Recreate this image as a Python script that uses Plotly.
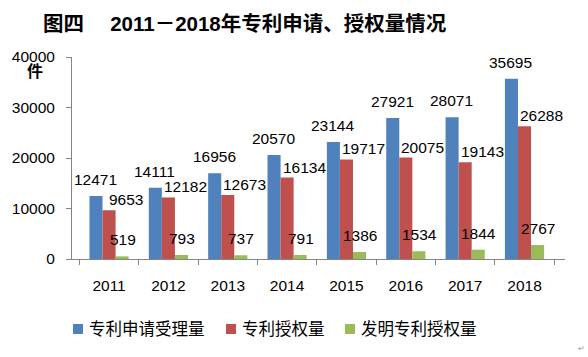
import plotly.graph_objects as go

years = ["2011", "2012", "2013", "2014", "2015", "2016", "2017", "2018"]
applications = [12471, 14111, 16956, 20570, 23144, 27921, 28071, 35695]
grants = [9653, 12182, 12673, 16134, 19717, 20075, 19143, 26288]
invention_grants = [519, 793, 737, 791, 1386, 1534, 1844, 2767]

names = ["专利申请受理量", "专利授权量", "发明专利授权量"]
colors = ["#4F81BD", "#C0504D", "#9BBB59"]

W, H = 588, 357
ML, MR, MT, MB = 72, 23, 57, 98
BARGAP = 0.34
FONT = "Liberation Sans, Noto Sans CJK SC, sans-serif"

fig = go.Figure()
series = [applications, grants, invention_grants]
for name, vals, col in zip(names, series, colors):
    fig.add_trace(go.Bar(x=years, y=vals, name=name, showlegend=False,
                         marker=dict(color=col, line=dict(width=0))))

plot_w = W - ML - MR
plot_h = H - MT - MB
bar_w = plot_w / len(years) * (1 - BARGAP) / 3
offsets = [-bar_w, 0, bar_w]
extra_x = [0, 17, 0]
extra_y = [6, 0, 6]


def px_x(px):
    return (px - ML) / plot_w


def px_y(py):
    return (H - MB - py) / plot_h


ann = []
for k, vals in enumerate(series):
    for i, v in enumerate(vals):
        ann.append(dict(x=i, y=v, xref="x", yref="y", text=str(v), showarrow=False,
                        yanchor="bottom", xanchor="center",
                        xshift=offsets[k] + extra_x[k], yshift=extra_y[k],
                        font=dict(family=FONT, size=15.5, color="#000000")))

title_txt = "图四　 2011－2018年专利申请、授权量情况"
ann.append(dict(xref="paper", yref="paper", x=px_x(41), y=px_y(23),
                xanchor="left", yanchor="middle", showarrow=False,
                text="<b>" + title_txt + "</b>",
                font=dict(family=FONT, size=20.5, color="#000000")))
ann.append(dict(xref="paper", yref="paper", x=px_x(35), y=px_y(72),
                xanchor="center", yanchor="middle", showarrow=False,
                text="<b>件</b>", font=dict(family=FONT, size=16, color="#000000")))
ann.append(dict(xref="paper", yref="paper", x=px_x(581), y=px_y(348),
                xanchor="center", yanchor="middle", showarrow=False,
                text="↵", font=dict(family=FONT, size=8, color="#999999")))

# manual legend
leg_sq_x = [73, 226, 345]
shapes = []
for nm, col, sx in zip(names, colors, leg_sq_x):
    shapes.append(dict(type="rect", xref="paper", yref="paper",
                       x0=px_x(sx), x1=px_x(sx + 10), y0=px_y(334), y1=px_y(324),
                       fillcolor=col, line=dict(width=0)))
    ann.append(dict(xref="paper", yref="paper", x=px_x(sx + 14), y=px_y(329),
                    xanchor="left", yanchor="middle", showarrow=False, text=nm,
                    font=dict(family=FONT, size=16.5, color="#000000")))

fig.update_layout(
    width=W, height=H,
    margin=dict(l=ML, r=MR, t=MT, b=MB, pad=0),
    paper_bgcolor="white", plot_bgcolor="white",
    barmode="group", bargap=BARGAP, bargroupgap=0,
    showlegend=False,
    xaxis=dict(type="category", showline=True, linecolor="#868686", linewidth=1,
               ticks="outside", tickson="boundaries", ticklen=5, tickcolor="#868686",
               tickfont=dict(family=FONT, size=15.5, color="#000000"), showgrid=False,
               ticklabelstandoff=12),
    yaxis=dict(range=[0, 40000], dtick=10000, tickformat="d", showline=True,
               linecolor="#868686", linewidth=1,
               ticks="outside", ticklen=5, tickcolor="#868686", showgrid=False, zeroline=False,
               tickfont=dict(family=FONT, size=15.5, color="#000000"), ticklabelstandoff=8),
    annotations=ann,
    shapes=shapes,
)

fig.write_html("out.html", config={"displayModeBar": False},
               post_script="document.body.style.margin='0';document.body.style.padding='0';")
